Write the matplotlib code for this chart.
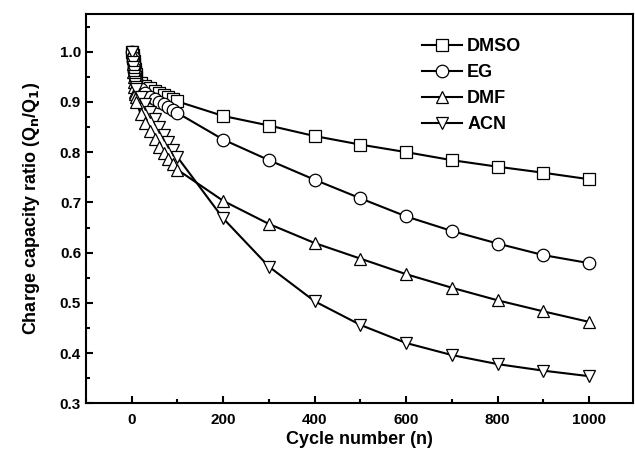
import matplotlib
matplotlib.use("Agg")
import matplotlib.pyplot as plt
from matplotlib.ticker import MultipleLocator

plt.rcParams['font.family'] = ['Liberation Sans', 'DejaVu Sans']
plt.rcParams['font.weight'] = 'bold'

# cycle numbers
cycles = [1, 2, 3, 4, 5, 6, 7, 8, 9, 10,
          20, 30, 40, 50, 60, 70, 80, 90, 100,
          200, 300, 400, 500, 600, 700, 800, 900, 1000]

dmso = [1.0, 0.993, 0.987, 0.981, 0.975, 0.970, 0.965, 0.960, 0.955, 0.950,
        0.938, 0.932, 0.927, 0.922, 0.918, 0.914, 0.910, 0.906, 0.901,
        0.872, 0.853, 0.832, 0.815, 0.800, 0.784, 0.771, 0.759, 0.746]
eg = [1.0, 0.990, 0.982, 0.975, 0.968, 0.961, 0.955, 0.949, 0.943, 0.938,
      0.925, 0.917, 0.910, 0.905, 0.900, 0.895, 0.890, 0.884, 0.878,
      0.825, 0.784, 0.745, 0.708, 0.672, 0.643, 0.618, 0.595, 0.579]
dmf = [1.0, 0.975, 0.960, 0.950, 0.940, 0.930, 0.920, 0.915, 0.910, 0.900,
       0.875, 0.858, 0.842, 0.826, 0.811, 0.799, 0.787, 0.776, 0.765,
       0.703, 0.657, 0.619, 0.588, 0.557, 0.530, 0.505, 0.483, 0.462]
acn = [1.0, 0.980, 0.970, 0.960, 0.952, 0.945, 0.940, 0.935, 0.930, 0.925,
       0.910, 0.895, 0.880, 0.865, 0.850, 0.835, 0.820, 0.805, 0.790,
       0.668, 0.572, 0.503, 0.456, 0.420, 0.396, 0.378, 0.365, 0.354]

series = [("DMSO", dmso, "s"), ("EG", eg, "o"), ("DMF", dmf, "^"), ("ACN", acn, "v")]

fig = plt.figure(figsize=(6.35, 4.62), dpi=100)
ax = fig.add_axes([0.1354, 0.127, 0.861, 0.8427])

for name, vals, mk in series:
    ax.plot(cycles, vals, marker=mk, color="black", lw=1.5, ms=9,
            mfc="white", mec="black", mew=0.9, label=name)

ax.set_xlim(-100, 1095)
ax.set_ylim(0.3, 1.075)
ax.xaxis.set_major_locator(MultipleLocator(200))
ax.xaxis.set_minor_locator(MultipleLocator(100))
ax.yaxis.set_major_locator(MultipleLocator(0.1))
ax.yaxis.set_minor_locator(MultipleLocator(0.05))
ax.tick_params(which="both", direction="in", labelsize=11, width=1.5)
ax.tick_params(which="major", length=5)
ax.tick_params(which="minor", length=3)
ax.tick_params(axis="x", pad=7)
for s in ax.spines.values():
    s.set_linewidth(1.5)
ax.set_yticks([0.3, 0.4, 0.5, 0.6, 0.7, 0.8, 0.9, 1.0])
ax.set_yticklabels(["0.3", "0.4", "0.5", "0.6", "0.7", "0.8", "0.9", "1.0"])

ax.set_xlabel("Cycle number (n)", fontsize=13, fontweight="bold", labelpad=3)
ax.set_ylabel(r"Charge capacity ratio (Q$_\mathbf{n}$/Q$_\mathbf{1}$)",
              fontsize=13, fontweight="bold", labelpad=13)

ax.legend(loc="upper left", bbox_to_anchor=(0.585, 0.98), frameon=False,
          fontsize=13, handlelength=2.2, handletextpad=0.3, labelspacing=0.5)

fig.savefig("out.png", dpi=100)
